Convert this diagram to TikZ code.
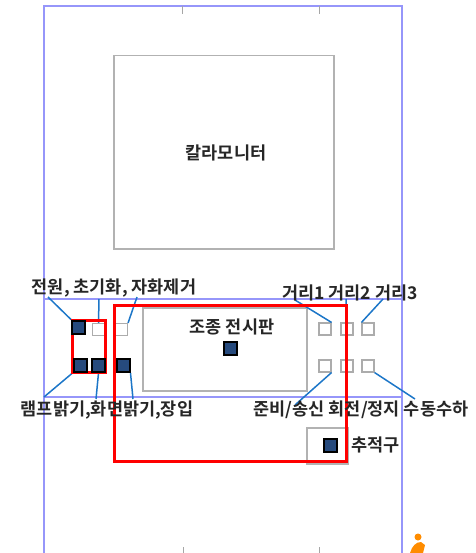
\documentclass[tikz,border=0pt]{standalone}
\usepackage{fontspec}
\setmainfont{Noto Sans CJK KR}[BoldFont={Noto Sans CJK KR Bold}]
\definecolor{navy}{RGB}{38,74,125}
\definecolor{leadc}{RGB}{28,118,200}
\definecolor{framec}{RGB}{150,150,250}
\begin{document}
\begin{tikzpicture}[x=1pt,y=-1pt,
  frame/.style={draw=framec,line width=1.4pt},
  tick/.style={draw=gray!70,line width=1pt},
  grayb/.style={draw=gray!60,line width=1.5pt,fill=white},
  redb/.style={draw=red,line width=3pt},
  lead/.style={draw=leadc,line width=1.5pt},
  dk/.style={draw=black,line width=2pt,fill=navy,minimum size=13pt,inner sep=0pt},
  ep/.style={draw=gray!65,line width=1.1pt,fill=white,minimum size=12pt,inner sep=0pt},
  lbl/.style={font=\bfseries\fontsize{17.5}{17.5}\selectfont,text=black!85,inner sep=0pt}]
\useasboundingbox (0,0) rectangle (475,553);
% outer frame
\draw[frame] (44,560) -- (44,6) -- (402,6) -- (402,560);
\draw[frame] (44,299) -- (402,299);
\draw[frame] (44,397) -- (402,397);
\draw[tick] (182,6) -- (182,14);
\draw[tick] (319,6) -- (319,14);
\draw[tick] (183,547) -- (183,553);
\draw[tick] (319,547) -- (319,553);
% monitor
\node[grayb,minimum width=220pt,minimum height=193pt,anchor=north west] (mon) at (113,55) {};
\node[lbl] (monl) at (226,153) {칼라모니터};
% control panel
\node[grayb,minimum width=164pt,minimum height=83pt,anchor=north west] (cp) at (142,307) {};
\node[lbl] (cpl) at (232,327) {조종 전시판};
\node[dk] (cpd) at (230,348) {};
% tracking ball box
\node[grayb,minimum width=41pt,minimum height=36pt,anchor=north west] (tb) at (306,427) {};
\node[dk] (tbd) at (330,445) {};
\node[lbl,anchor=west] (tbl) at (351,445) {추적구};
% leader line free ends
\coordinate (a1) at (48,297);
\coordinate (a2) at (99,299);
\coordinate (a3) at (137,297);
\coordinate (b1) at (44,397);
\coordinate (b2) at (96,399);
\coordinate (b3) at (133,399);
\coordinate (c1) at (295,300);
\coordinate (c2) at (346,299);
\coordinate (c3) at (383,299);
\coordinate (d1) at (295,405);
\coordinate (d2) at (346,405);
\coordinate (d3) at (415,399);
% left squares
\node[dk] (s1) at (78.5,327) {};
\node[ep] (s2) at (98.5,329.5) {};
\node[ep] (s3) at (121.5,329.5) {};
\node[dk] (s4) at (80,365.5) {};
\node[dk] (s5) at (98.5,365.5) {};
\node[dk] (s6) at (123,365.5) {};
% right squares
\node[ep] (r1) at (325,329) {};
\node[ep] (r2) at (347,329) {};
\node[ep] (r3) at (368,329) {};
\node[ep] (r4) at (325,366) {};
\node[ep] (r5) at (347,366) {};
\node[ep] (r6) at (368,366) {};
\draw[lead] (a1) -- (s1.north west);
\draw[lead] (a2) -- (s2.north);
\draw[lead] (a3) -- (s3.north east);
\draw[lead] (b1) -- (s4.south west);
\draw[lead] (b2) -- (s5.south);
\draw[lead] (b3) -- (s6.south east);
\draw[lead] (c1) -- (r1.north east);
\draw[lead] (c2) -- (r2.north);
\draw[lead] (c3) -- (r3.north west);
\draw[lead] (d1) -- (r4.south east);
\draw[lead] (d2) -- (r5.south);
\draw[lead] (d3) -- (r6.south east);
% red boxes
\draw[redb] (72,320) rectangle (105,372);
\draw[redb] (114,305) rectangle (346,461);
% redraw squares on top of red
\node[dk] at (s1) {};
\node[dk] at (s4) {};
\node[dk] at (s5) {};
% labels
\node[lbl] (l1) at (114,288) {전원, 초기화, 자화제거};
\node[lbl] (l2) at (350,293) {거리1 거리2 거리3};
\node[lbl] (l3) at (107,410) {램프밝기,화면밝기,장입};
\node[lbl] (l4) at (361,410) {준비/송신 회전/정지 수동수하};
% orange icon
\fill[orange!90!yellow] (418,537) circle (3.5pt);
\fill[orange!90!yellow] (410,553) .. controls (412,546) and (416,542) .. (421,542) -- (425,545) -- (423,553) -- cycle;
\end{tikzpicture}
\end{document}
